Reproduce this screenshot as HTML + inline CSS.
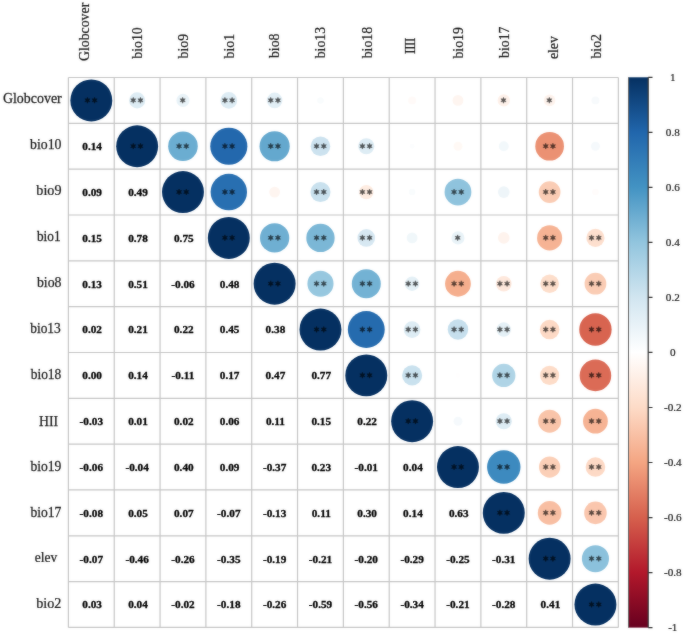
<!DOCTYPE html>
<html><head><meta charset="utf-8"><title>corrplot</title><style>
html,body{margin:0;padding:0;background:#fff;}
body{width:685px;height:636px;overflow:hidden;}
svg{display:block;}
text{font-family:"Liberation Serif",serif;}
.nm{font-size:10.7px;font-weight:bold;text-anchor:middle;fill:#000;stroke:#000;stroke-width:0.3px;}
.rl{font-size:13.8px;text-anchor:end;fill:#1a1a1a;stroke:#1a1a1a;stroke-width:0.25px;}
.cl{font-size:13.8px;text-anchor:start;fill:#1a1a1a;stroke:#1a1a1a;stroke-width:0.25px;}
.tl{font-size:11.2px;text-anchor:middle;fill:#1a1a1a;stroke:#1a1a1a;stroke-width:0.2px;}
</style></head>
<body>
<svg width="685" height="636" viewBox="0 0 685 636"><rect width="685" height="636" fill="#fff"/><filter id="bl" x="0" y="0" width="685" height="636" filterUnits="userSpaceOnUse" color-interpolation-filters="sRGB"><feGaussianBlur in="SourceGraphic" stdDeviation="0.8" result="b"/><feComposite in="SourceGraphic" in2="b" operator="arithmetic" k1="0" k2="0.65" k3="0.35" k4="0"/></filter><g filter="url(#bl)"><rect width="685" height="636" fill="#fff"/><path d="M68.40 77.5V627.46M68.4 77.50H618.36M114.23 77.5V627.46M68.4 123.33H618.36M160.06 77.5V627.46M68.4 169.16H618.36M205.89 77.5V627.46M68.4 214.99H618.36M251.72 77.5V627.46M68.4 260.82H618.36M297.55 77.5V627.46M68.4 306.65H618.36M343.38 77.5V627.46M68.4 352.48H618.36M389.21 77.5V627.46M68.4 398.31H618.36M435.04 77.5V627.46M68.4 444.14H618.36M480.87 77.5V627.46M68.4 489.97H618.36M526.70 77.5V627.46M68.4 535.80H618.36M572.53 77.5V627.46M68.4 581.63H618.36M618.36 77.5V627.46M68.4 627.46H618.36" stroke="#c6c6c6" stroke-width="1.2" fill="none"/><circle cx="91.31" cy="100.41" r="20.97" fill="#053061"/><circle cx="137.15" cy="100.41" r="8.07" fill="#ddecf4"/><circle cx="182.97" cy="100.41" r="6.54" fill="#e9f3f8"/><circle cx="228.81" cy="100.41" r="8.34" fill="#ddecf4"/><circle cx="274.63" cy="100.41" r="7.79" fill="#e2eff6"/><circle cx="320.47" cy="100.41" r="3.27" fill="#f9fcfd"/><circle cx="412.12" cy="100.41" r="3.92" fill="#fffaf8"/><circle cx="457.96" cy="100.41" r="5.40" fill="#fef5f0"/><circle cx="503.78" cy="100.41" r="6.18" fill="#fef1ea"/><circle cx="549.62" cy="100.41" r="5.81" fill="#fef3ed"/><circle cx="595.44" cy="100.41" r="3.92" fill="#f7fafc"/><circle cx="137.15" cy="146.25" r="20.97" fill="#053061"/><circle cx="182.97" cy="146.25" r="14.79" fill="#6badd1"/><circle cx="228.81" cy="146.25" r="18.56" fill="#2368ad"/><circle cx="274.63" cy="146.25" r="15.08" fill="#64a8ce"/><circle cx="320.47" cy="146.25" r="9.80" fill="#cce2ef"/><circle cx="366.29" cy="146.25" r="8.07" fill="#ddecf4"/><circle cx="412.12" cy="146.25" r="2.41" fill="#fcfdfe"/><circle cx="457.96" cy="146.25" r="4.47" fill="#fff9f5"/><circle cx="503.78" cy="146.25" r="4.96" fill="#f2f8fb"/><circle cx="549.62" cy="146.25" r="14.34" fill="#eb9173"/><circle cx="595.44" cy="146.25" r="4.47" fill="#f5f9fc"/><circle cx="182.97" cy="192.07" r="20.97" fill="#053061"/><circle cx="228.81" cy="192.07" r="18.21" fill="#286fb1"/><circle cx="274.63" cy="192.07" r="5.40" fill="#fef5f0"/><circle cx="320.47" cy="192.07" r="10.02" fill="#c9e1ee"/><circle cx="366.29" cy="192.07" r="7.19" fill="#feece1"/><circle cx="412.12" cy="192.07" r="3.27" fill="#f9fcfd"/><circle cx="457.96" cy="192.07" r="13.39" fill="#8fc3dd"/><circle cx="503.78" cy="192.07" r="5.81" fill="#eef5f9"/><circle cx="549.62" cy="192.07" r="10.87" fill="#faccb4"/><circle cx="595.44" cy="192.07" r="3.27" fill="#fffcfb"/><circle cx="228.81" cy="237.91" r="20.97" fill="#053061"/><circle cx="274.63" cy="237.91" r="14.64" fill="#6fafd2"/><circle cx="320.47" cy="237.91" r="14.18" fill="#7bb7d6"/><circle cx="366.29" cy="237.91" r="8.85" fill="#d7e8f2"/><circle cx="412.12" cy="237.91" r="5.40" fill="#f0f7fa"/><circle cx="457.96" cy="237.91" r="6.54" fill="#e9f3f8"/><circle cx="503.78" cy="237.91" r="5.81" fill="#fef3ed"/><circle cx="549.62" cy="237.91" r="12.55" fill="#f6b394"/><circle cx="595.44" cy="237.91" r="9.10" fill="#fddfce"/><circle cx="274.63" cy="283.74" r="20.97" fill="#053061"/><circle cx="320.47" cy="283.74" r="13.06" fill="#96c7df"/><circle cx="366.29" cy="283.74" r="14.49" fill="#73b2d4"/><circle cx="412.12" cy="283.74" r="7.19" fill="#e4f0f6"/><circle cx="457.96" cy="283.74" r="12.89" fill="#f5ae8d"/><circle cx="503.78" cy="283.74" r="7.79" fill="#fee8dc"/><circle cx="549.62" cy="283.74" r="9.34" fill="#fddecb"/><circle cx="595.44" cy="283.74" r="10.87" fill="#faccb4"/><circle cx="320.47" cy="329.56" r="20.97" fill="#053061"/><circle cx="366.29" cy="329.56" r="18.45" fill="#256bae"/><circle cx="412.12" cy="329.56" r="8.34" fill="#ddecf4"/><circle cx="457.96" cy="329.56" r="10.24" fill="#c6dfed"/><circle cx="503.78" cy="329.56" r="7.19" fill="#e4f0f6"/><circle cx="549.62" cy="329.56" r="9.80" fill="#fdd9c5"/><circle cx="595.44" cy="329.56" r="16.19" fill="#d86450"/><circle cx="366.29" cy="375.39" r="20.97" fill="#053061"/><circle cx="412.12" cy="375.39" r="10.02" fill="#c9e1ee"/><circle cx="457.96" cy="375.39" r="2.41" fill="#fffefe"/><circle cx="503.78" cy="375.39" r="11.65" fill="#afd4e6"/><circle cx="549.62" cy="375.39" r="9.57" fill="#fddcc8"/><circle cx="595.44" cy="375.39" r="15.78" fill="#db6b56"/><circle cx="412.12" cy="421.22" r="20.97" fill="#053061"/><circle cx="457.96" cy="421.22" r="4.47" fill="#f5f9fc"/><circle cx="503.78" cy="421.22" r="8.07" fill="#ddecf4"/><circle cx="549.62" cy="421.22" r="11.46" fill="#f9c4a9"/><circle cx="595.44" cy="421.22" r="12.38" fill="#f6b394"/><circle cx="457.96" cy="467.06" r="20.97" fill="#053061"/><circle cx="503.78" cy="467.06" r="16.72" fill="#3d8abf"/><circle cx="549.62" cy="467.06" r="10.66" fill="#fbcfb7"/><circle cx="595.44" cy="467.06" r="9.80" fill="#fdd9c5"/><circle cx="503.78" cy="512.88" r="20.97" fill="#053061"/><circle cx="549.62" cy="512.88" r="11.83" fill="#f8bea2"/><circle cx="595.44" cy="512.88" r="11.26" fill="#fac6ad"/><circle cx="549.62" cy="558.71" r="20.97" fill="#053061"/><circle cx="595.44" cy="558.71" r="13.56" fill="#8bc1dc"/><circle cx="595.44" cy="604.54" r="20.97" fill="#053061"/><path d="M87.42 97.36L88.14 99.06L89.97 98.84L88.87 100.31L89.97 101.79L88.14 101.57L87.42 103.27L86.69 101.57L84.86 101.79L85.97 100.31L84.86 98.84L86.69 99.06ZM94.61 97.36L95.34 99.06L97.17 98.84L96.06 100.31L97.17 101.79L95.34 101.57L94.61 103.27L93.89 101.57L92.06 101.79L93.16 100.31L92.06 98.84L93.89 99.06ZM133.25 97.36L133.97 99.06L135.80 98.84L134.69 100.31L135.80 101.79L133.97 101.57L133.25 103.27L132.52 101.57L130.69 101.79L131.80 100.31L130.69 98.84L132.52 99.06ZM140.44 97.36L141.17 99.06L143.00 98.84L141.89 100.31L143.00 101.79L141.17 101.57L140.44 103.27L139.72 101.57L137.89 101.79L139.00 100.31L137.89 98.84L139.72 99.06ZM182.67 97.36L183.40 99.06L185.23 98.84L184.12 100.31L185.23 101.79L183.40 101.57L182.67 103.27L181.95 101.57L180.12 101.79L181.22 100.31L180.12 98.84L181.95 99.06ZM224.91 97.36L225.63 99.06L227.46 98.84L226.35 100.31L227.46 101.79L225.63 101.57L224.91 103.27L224.18 101.57L222.35 101.79L223.46 100.31L222.35 98.84L224.18 99.06ZM232.10 97.36L232.83 99.06L234.66 98.84L233.55 100.31L234.66 101.79L232.83 101.57L232.10 103.27L231.38 101.57L229.55 101.79L230.66 100.31L229.55 98.84L231.38 99.06ZM270.73 97.36L271.46 99.06L273.29 98.84L272.18 100.31L273.29 101.79L271.46 101.57L270.73 103.27L270.01 101.57L268.18 101.79L269.28 100.31L268.18 98.84L270.01 99.06ZM277.94 97.36L278.66 99.06L280.49 98.84L279.38 100.31L280.49 101.79L278.66 101.57L277.94 103.27L277.21 101.57L275.38 101.79L276.49 100.31L275.38 98.84L277.21 99.06ZM503.48 97.36L504.21 99.06L506.04 98.84L504.93 100.31L506.04 101.79L504.21 101.57L503.48 103.27L502.76 101.57L500.93 101.79L502.03 100.31L500.93 98.84L502.76 99.06ZM549.32 97.36L550.04 99.06L551.87 98.84L550.77 100.31L551.87 101.79L550.04 101.57L549.32 103.27L548.59 101.57L546.76 101.79L547.87 100.31L546.76 98.84L548.59 99.06ZM133.25 143.20L133.97 144.89L135.80 144.67L134.69 146.15L135.80 147.62L133.97 147.40L133.25 149.09L132.52 147.40L130.69 147.62L131.80 146.15L130.69 144.67L132.52 144.89ZM140.44 143.20L141.17 144.89L143.00 144.67L141.89 146.15L143.00 147.62L141.17 147.40L140.44 149.09L139.72 147.40L137.89 147.62L139.00 146.15L137.89 144.67L139.72 144.89ZM179.07 143.20L179.80 144.89L181.63 144.67L180.52 146.15L181.63 147.62L179.80 147.40L179.07 149.09L178.35 147.40L176.52 147.62L177.62 146.15L176.52 144.67L178.35 144.89ZM186.27 143.20L187.00 144.89L188.83 144.67L187.72 146.15L188.83 147.62L187.00 147.40L186.27 149.09L185.55 147.40L183.72 147.62L184.82 146.15L183.72 144.67L185.55 144.89ZM224.91 143.20L225.63 144.89L227.46 144.67L226.35 146.15L227.46 147.62L225.63 147.40L224.91 149.09L224.18 147.40L222.35 147.62L223.46 146.15L222.35 144.67L224.18 144.89ZM232.10 143.20L232.83 144.89L234.66 144.67L233.55 146.15L234.66 147.62L232.83 147.40L232.10 149.09L231.38 147.40L229.55 147.62L230.66 146.15L229.55 144.67L231.38 144.89ZM270.73 143.20L271.46 144.89L273.29 144.67L272.18 146.15L273.29 147.62L271.46 147.40L270.73 149.09L270.01 147.40L268.18 147.62L269.28 146.15L268.18 144.67L270.01 144.89ZM277.94 143.20L278.66 144.89L280.49 144.67L279.38 146.15L280.49 147.62L278.66 147.40L277.94 149.09L277.21 147.40L275.38 147.62L276.49 146.15L275.38 144.67L277.21 144.89ZM316.56 143.20L317.29 144.89L319.12 144.67L318.01 146.15L319.12 147.62L317.29 147.40L316.56 149.09L315.84 147.40L314.01 147.62L315.12 146.15L314.01 144.67L315.84 144.89ZM323.77 143.20L324.49 144.89L326.32 144.67L325.22 146.15L326.32 147.62L324.49 147.40L323.77 149.09L323.04 147.40L321.21 147.62L322.32 146.15L321.21 144.67L323.04 144.89ZM362.39 143.20L363.12 144.89L364.95 144.67L363.84 146.15L364.95 147.62L363.12 147.40L362.39 149.09L361.67 147.40L359.84 147.62L360.94 146.15L359.84 144.67L361.67 144.89ZM369.59 143.20L370.32 144.89L372.15 144.67L371.04 146.15L372.15 147.62L370.32 147.40L369.59 149.09L368.87 147.40L367.04 147.62L368.14 146.15L367.04 144.67L368.87 144.89ZM545.72 143.20L546.44 144.89L548.27 144.67L547.17 146.15L548.27 147.62L546.44 147.40L545.72 149.09L544.99 147.40L543.16 147.62L544.26 146.15L543.16 144.67L544.99 144.89ZM552.92 143.20L553.64 144.89L555.47 144.67L554.37 146.15L555.47 147.62L553.64 147.40L552.92 149.09L552.19 147.40L550.36 147.62L551.47 146.15L550.36 144.67L552.19 144.89ZM179.07 189.03L179.80 190.72L181.63 190.50L180.52 191.97L181.63 193.45L179.80 193.23L179.07 194.92L178.35 193.23L176.52 193.45L177.62 191.97L176.52 190.50L178.35 190.72ZM186.27 189.03L187.00 190.72L188.83 190.50L187.72 191.97L188.83 193.45L187.00 193.23L186.27 194.92L185.55 193.23L183.72 193.45L184.82 191.97L183.72 190.50L185.55 190.72ZM224.91 189.03L225.63 190.72L227.46 190.50L226.35 191.97L227.46 193.45L225.63 193.23L224.91 194.92L224.18 193.23L222.35 193.45L223.46 191.97L222.35 190.50L224.18 190.72ZM232.10 189.03L232.83 190.72L234.66 190.50L233.55 191.97L234.66 193.45L232.83 193.23L232.10 194.92L231.38 193.23L229.55 193.45L230.66 191.97L229.55 190.50L231.38 190.72ZM316.56 189.03L317.29 190.72L319.12 190.50L318.01 191.97L319.12 193.45L317.29 193.23L316.56 194.92L315.84 193.23L314.01 193.45L315.12 191.97L314.01 190.50L315.84 190.72ZM323.77 189.03L324.49 190.72L326.32 190.50L325.22 191.97L326.32 193.45L324.49 193.23L323.77 194.92L323.04 193.23L321.21 193.45L322.32 191.97L321.21 190.50L323.04 190.72ZM362.39 189.03L363.12 190.72L364.95 190.50L363.84 191.97L364.95 193.45L363.12 193.23L362.39 194.92L361.67 193.23L359.84 193.45L360.94 191.97L359.84 190.50L361.67 190.72ZM369.59 189.03L370.32 190.72L372.15 190.50L371.04 191.97L372.15 193.45L370.32 193.23L369.59 194.92L368.87 193.23L367.04 193.45L368.14 191.97L367.04 190.50L368.87 190.72ZM454.06 189.03L454.78 190.72L456.61 190.50L455.50 191.97L456.61 193.45L454.78 193.23L454.06 194.92L453.33 193.23L451.50 193.45L452.61 191.97L451.50 190.50L453.33 190.72ZM461.26 189.03L461.98 190.72L463.81 190.50L462.71 191.97L463.81 193.45L461.98 193.23L461.26 194.92L460.53 193.23L458.70 193.45L459.81 191.97L458.70 190.50L460.53 190.72ZM545.72 189.03L546.44 190.72L548.27 190.50L547.17 191.97L548.27 193.45L546.44 193.23L545.72 194.92L544.99 193.23L543.16 193.45L544.26 191.97L543.16 190.50L544.99 190.72ZM552.92 189.03L553.64 190.72L555.47 190.50L554.37 191.97L555.47 193.45L553.64 193.23L552.92 194.92L552.19 193.23L550.36 193.45L551.47 191.97L550.36 190.50L552.19 190.72ZM224.91 234.86L225.63 236.55L227.46 236.33L226.35 237.81L227.46 239.28L225.63 239.06L224.91 240.75L224.18 239.06L222.35 239.28L223.46 237.81L222.35 236.33L224.18 236.55ZM232.10 234.86L232.83 236.55L234.66 236.33L233.55 237.81L234.66 239.28L232.83 239.06L232.10 240.75L231.38 239.06L229.55 239.28L230.66 237.81L229.55 236.33L231.38 236.55ZM270.73 234.86L271.46 236.55L273.29 236.33L272.18 237.81L273.29 239.28L271.46 239.06L270.73 240.75L270.01 239.06L268.18 239.28L269.28 237.81L268.18 236.33L270.01 236.55ZM277.94 234.86L278.66 236.55L280.49 236.33L279.38 237.81L280.49 239.28L278.66 239.06L277.94 240.75L277.21 239.06L275.38 239.28L276.49 237.81L275.38 236.33L277.21 236.55ZM316.56 234.86L317.29 236.55L319.12 236.33L318.01 237.81L319.12 239.28L317.29 239.06L316.56 240.75L315.84 239.06L314.01 239.28L315.12 237.81L314.01 236.33L315.84 236.55ZM323.77 234.86L324.49 236.55L326.32 236.33L325.22 237.81L326.32 239.28L324.49 239.06L323.77 240.75L323.04 239.06L321.21 239.28L322.32 237.81L321.21 236.33L323.04 236.55ZM362.39 234.86L363.12 236.55L364.95 236.33L363.84 237.81L364.95 239.28L363.12 239.06L362.39 240.75L361.67 239.06L359.84 239.28L360.94 237.81L359.84 236.33L361.67 236.55ZM369.59 234.86L370.32 236.55L372.15 236.33L371.04 237.81L372.15 239.28L370.32 239.06L369.59 240.75L368.87 239.06L367.04 239.28L368.14 237.81L367.04 236.33L368.87 236.55ZM457.66 234.86L458.38 236.55L460.21 236.33L459.11 237.81L460.21 239.28L458.38 239.06L457.66 240.75L456.93 239.06L455.10 239.28L456.21 237.81L455.10 236.33L456.93 236.55ZM545.72 234.86L546.44 236.55L548.27 236.33L547.17 237.81L548.27 239.28L546.44 239.06L545.72 240.75L544.99 239.06L543.16 239.28L544.26 237.81L543.16 236.33L544.99 236.55ZM552.92 234.86L553.64 236.55L555.47 236.33L554.37 237.81L555.47 239.28L553.64 239.06L552.92 240.75L552.19 239.06L550.36 239.28L551.47 237.81L550.36 236.33L552.19 236.55ZM591.54 234.86L592.27 236.55L594.10 236.33L593.00 237.81L594.10 239.28L592.27 239.06L591.54 240.75L590.82 239.06L588.99 239.28L590.09 237.81L588.99 236.33L590.82 236.55ZM598.75 234.86L599.47 236.55L601.30 236.33L600.20 237.81L601.30 239.28L599.47 239.06L598.75 240.75L598.02 239.06L596.19 239.28L597.29 237.81L596.19 236.33L598.02 236.55ZM270.73 280.69L271.46 282.38L273.29 282.16L272.18 283.63L273.29 285.11L271.46 284.89L270.73 286.58L270.01 284.89L268.18 285.11L269.28 283.63L268.18 282.16L270.01 282.38ZM277.94 280.69L278.66 282.38L280.49 282.16L279.38 283.63L280.49 285.11L278.66 284.89L277.94 286.58L277.21 284.89L275.38 285.11L276.49 283.63L275.38 282.16L277.21 282.38ZM316.56 280.69L317.29 282.38L319.12 282.16L318.01 283.63L319.12 285.11L317.29 284.89L316.56 286.58L315.84 284.89L314.01 285.11L315.12 283.63L314.01 282.16L315.84 282.38ZM323.77 280.69L324.49 282.38L326.32 282.16L325.22 283.63L326.32 285.11L324.49 284.89L323.77 286.58L323.04 284.89L321.21 285.11L322.32 283.63L321.21 282.16L323.04 282.38ZM362.39 280.69L363.12 282.38L364.95 282.16L363.84 283.63L364.95 285.11L363.12 284.89L362.39 286.58L361.67 284.89L359.84 285.11L360.94 283.63L359.84 282.16L361.67 282.38ZM369.59 280.69L370.32 282.38L372.15 282.16L371.04 283.63L372.15 285.11L370.32 284.89L369.59 286.58L368.87 284.89L367.04 285.11L368.14 283.63L367.04 282.16L368.87 282.38ZM408.22 280.69L408.95 282.38L410.78 282.16L409.67 283.63L410.78 285.11L408.95 284.89L408.22 286.58L407.50 284.89L405.67 285.11L406.77 283.63L405.67 282.16L407.50 282.38ZM415.43 280.69L416.15 282.38L417.98 282.16L416.88 283.63L417.98 285.11L416.15 284.89L415.43 286.58L414.70 284.89L412.87 285.11L413.98 283.63L412.87 282.16L414.70 282.38ZM454.06 280.69L454.78 282.38L456.61 282.16L455.50 283.63L456.61 285.11L454.78 284.89L454.06 286.58L453.33 284.89L451.50 285.11L452.61 283.63L451.50 282.16L453.33 282.38ZM461.26 280.69L461.98 282.38L463.81 282.16L462.71 283.63L463.81 285.11L461.98 284.89L461.26 286.58L460.53 284.89L458.70 285.11L459.81 283.63L458.70 282.16L460.53 282.38ZM499.88 280.69L500.61 282.38L502.44 282.16L501.33 283.63L502.44 285.11L500.61 284.89L499.88 286.58L499.16 284.89L497.33 285.11L498.43 283.63L497.33 282.16L499.16 282.38ZM507.08 280.69L507.81 282.38L509.64 282.16L508.53 283.63L509.64 285.11L507.81 284.89L507.08 286.58L506.36 284.89L504.53 285.11L505.63 283.63L504.53 282.16L506.36 282.38ZM545.72 280.69L546.44 282.38L548.27 282.16L547.17 283.63L548.27 285.11L546.44 284.89L545.72 286.58L544.99 284.89L543.16 285.11L544.26 283.63L543.16 282.16L544.99 282.38ZM552.92 280.69L553.64 282.38L555.47 282.16L554.37 283.63L555.47 285.11L553.64 284.89L552.92 286.58L552.19 284.89L550.36 285.11L551.47 283.63L550.36 282.16L552.19 282.38ZM591.54 280.69L592.27 282.38L594.10 282.16L593.00 283.63L594.10 285.11L592.27 284.89L591.54 286.58L590.82 284.89L588.99 285.11L590.09 283.63L588.99 282.16L590.82 282.38ZM598.75 280.69L599.47 282.38L601.30 282.16L600.20 283.63L601.30 285.11L599.47 284.89L598.75 286.58L598.02 284.89L596.19 285.11L597.29 283.63L596.19 282.16L598.02 282.38ZM316.56 326.51L317.29 328.21L319.12 327.99L318.01 329.46L319.12 330.94L317.29 330.72L316.56 332.41L315.84 330.72L314.01 330.94L315.12 329.46L314.01 327.99L315.84 328.21ZM323.77 326.51L324.49 328.21L326.32 327.99L325.22 329.46L326.32 330.94L324.49 330.72L323.77 332.41L323.04 330.72L321.21 330.94L322.32 329.46L321.21 327.99L323.04 328.21ZM362.39 326.51L363.12 328.21L364.95 327.99L363.84 329.46L364.95 330.94L363.12 330.72L362.39 332.41L361.67 330.72L359.84 330.94L360.94 329.46L359.84 327.99L361.67 328.21ZM369.59 326.51L370.32 328.21L372.15 327.99L371.04 329.46L372.15 330.94L370.32 330.72L369.59 332.41L368.87 330.72L367.04 330.94L368.14 329.46L367.04 327.99L368.87 328.21ZM408.22 326.51L408.95 328.21L410.78 327.99L409.67 329.46L410.78 330.94L408.95 330.72L408.22 332.41L407.50 330.72L405.67 330.94L406.77 329.46L405.67 327.99L407.50 328.21ZM415.43 326.51L416.15 328.21L417.98 327.99L416.88 329.46L417.98 330.94L416.15 330.72L415.43 332.41L414.70 330.72L412.87 330.94L413.98 329.46L412.87 327.99L414.70 328.21ZM454.06 326.51L454.78 328.21L456.61 327.99L455.50 329.46L456.61 330.94L454.78 330.72L454.06 332.41L453.33 330.72L451.50 330.94L452.61 329.46L451.50 327.99L453.33 328.21ZM461.26 326.51L461.98 328.21L463.81 327.99L462.71 329.46L463.81 330.94L461.98 330.72L461.26 332.41L460.53 330.72L458.70 330.94L459.81 329.46L458.70 327.99L460.53 328.21ZM499.88 326.51L500.61 328.21L502.44 327.99L501.33 329.46L502.44 330.94L500.61 330.72L499.88 332.41L499.16 330.72L497.33 330.94L498.43 329.46L497.33 327.99L499.16 328.21ZM507.08 326.51L507.81 328.21L509.64 327.99L508.53 329.46L509.64 330.94L507.81 330.72L507.08 332.41L506.36 330.72L504.53 330.94L505.63 329.46L504.53 327.99L506.36 328.21ZM545.72 326.51L546.44 328.21L548.27 327.99L547.17 329.46L548.27 330.94L546.44 330.72L545.72 332.41L544.99 330.72L543.16 330.94L544.26 329.46L543.16 327.99L544.99 328.21ZM552.92 326.51L553.64 328.21L555.47 327.99L554.37 329.46L555.47 330.94L553.64 330.72L552.92 332.41L552.19 330.72L550.36 330.94L551.47 329.46L550.36 327.99L552.19 328.21ZM591.54 326.51L592.27 328.21L594.10 327.99L593.00 329.46L594.10 330.94L592.27 330.72L591.54 332.41L590.82 330.72L588.99 330.94L590.09 329.46L588.99 327.99L590.82 328.21ZM598.75 326.51L599.47 328.21L601.30 327.99L600.20 329.46L601.30 330.94L599.47 330.72L598.75 332.41L598.02 330.72L596.19 330.94L597.29 329.46L596.19 327.99L598.02 328.21ZM362.39 372.34L363.12 374.04L364.95 373.82L363.84 375.29L364.95 376.77L363.12 376.55L362.39 378.24L361.67 376.55L359.84 376.77L360.94 375.29L359.84 373.82L361.67 374.04ZM369.59 372.34L370.32 374.04L372.15 373.82L371.04 375.29L372.15 376.77L370.32 376.55L369.59 378.24L368.87 376.55L367.04 376.77L368.14 375.29L367.04 373.82L368.87 374.04ZM408.22 372.34L408.95 374.04L410.78 373.82L409.67 375.29L410.78 376.77L408.95 376.55L408.22 378.24L407.50 376.55L405.67 376.77L406.77 375.29L405.67 373.82L407.50 374.04ZM415.43 372.34L416.15 374.04L417.98 373.82L416.88 375.29L417.98 376.77L416.15 376.55L415.43 378.24L414.70 376.55L412.87 376.77L413.98 375.29L412.87 373.82L414.70 374.04ZM499.88 372.34L500.61 374.04L502.44 373.82L501.33 375.29L502.44 376.77L500.61 376.55L499.88 378.24L499.16 376.55L497.33 376.77L498.43 375.29L497.33 373.82L499.16 374.04ZM507.08 372.34L507.81 374.04L509.64 373.82L508.53 375.29L509.64 376.77L507.81 376.55L507.08 378.24L506.36 376.55L504.53 376.77L505.63 375.29L504.53 373.82L506.36 374.04ZM545.72 372.34L546.44 374.04L548.27 373.82L547.17 375.29L548.27 376.77L546.44 376.55L545.72 378.24L544.99 376.55L543.16 376.77L544.26 375.29L543.16 373.82L544.99 374.04ZM552.92 372.34L553.64 374.04L555.47 373.82L554.37 375.29L555.47 376.77L553.64 376.55L552.92 378.24L552.19 376.55L550.36 376.77L551.47 375.29L550.36 373.82L552.19 374.04ZM591.54 372.34L592.27 374.04L594.10 373.82L593.00 375.29L594.10 376.77L592.27 376.55L591.54 378.24L590.82 376.55L588.99 376.77L590.09 375.29L588.99 373.82L590.82 374.04ZM598.75 372.34L599.47 374.04L601.30 373.82L600.20 375.29L601.30 376.77L599.47 376.55L598.75 378.24L598.02 376.55L596.19 376.77L597.29 375.29L596.19 373.82L598.02 374.04ZM408.22 418.17L408.95 419.87L410.78 419.65L409.67 421.12L410.78 422.60L408.95 422.38L408.22 424.07L407.50 422.38L405.67 422.60L406.77 421.12L405.67 419.65L407.50 419.87ZM415.43 418.17L416.15 419.87L417.98 419.65L416.88 421.12L417.98 422.60L416.15 422.38L415.43 424.07L414.70 422.38L412.87 422.60L413.98 421.12L412.87 419.65L414.70 419.87ZM499.88 418.17L500.61 419.87L502.44 419.65L501.33 421.12L502.44 422.60L500.61 422.38L499.88 424.07L499.16 422.38L497.33 422.60L498.43 421.12L497.33 419.65L499.16 419.87ZM507.08 418.17L507.81 419.87L509.64 419.65L508.53 421.12L509.64 422.60L507.81 422.38L507.08 424.07L506.36 422.38L504.53 422.60L505.63 421.12L504.53 419.65L506.36 419.87ZM545.72 418.17L546.44 419.87L548.27 419.65L547.17 421.12L548.27 422.60L546.44 422.38L545.72 424.07L544.99 422.38L543.16 422.60L544.26 421.12L543.16 419.65L544.99 419.87ZM552.92 418.17L553.64 419.87L555.47 419.65L554.37 421.12L555.47 422.60L553.64 422.38L552.92 424.07L552.19 422.38L550.36 422.60L551.47 421.12L550.36 419.65L552.19 419.87ZM591.54 418.17L592.27 419.87L594.10 419.65L593.00 421.12L594.10 422.60L592.27 422.38L591.54 424.07L590.82 422.38L588.99 422.60L590.09 421.12L588.99 419.65L590.82 419.87ZM598.75 418.17L599.47 419.87L601.30 419.65L600.20 421.12L601.30 422.60L599.47 422.38L598.75 424.07L598.02 422.38L596.19 422.60L597.29 421.12L596.19 419.65L598.02 419.87ZM454.06 464.00L454.78 465.70L456.61 465.48L455.50 466.95L456.61 468.43L454.78 468.21L454.06 469.90L453.33 468.21L451.50 468.43L452.61 466.95L451.50 465.48L453.33 465.70ZM461.26 464.00L461.98 465.70L463.81 465.48L462.71 466.95L463.81 468.43L461.98 468.21L461.26 469.90L460.53 468.21L458.70 468.43L459.81 466.95L458.70 465.48L460.53 465.70ZM499.88 464.00L500.61 465.70L502.44 465.48L501.33 466.95L502.44 468.43L500.61 468.21L499.88 469.90L499.16 468.21L497.33 468.43L498.43 466.95L497.33 465.48L499.16 465.70ZM507.08 464.00L507.81 465.70L509.64 465.48L508.53 466.95L509.64 468.43L507.81 468.21L507.08 469.90L506.36 468.21L504.53 468.43L505.63 466.95L504.53 465.48L506.36 465.70ZM545.72 464.00L546.44 465.70L548.27 465.48L547.17 466.95L548.27 468.43L546.44 468.21L545.72 469.90L544.99 468.21L543.16 468.43L544.26 466.95L543.16 465.48L544.99 465.70ZM552.92 464.00L553.64 465.70L555.47 465.48L554.37 466.95L555.47 468.43L553.64 468.21L552.92 469.90L552.19 468.21L550.36 468.43L551.47 466.95L550.36 465.48L552.19 465.70ZM591.54 464.00L592.27 465.70L594.10 465.48L593.00 466.95L594.10 468.43L592.27 468.21L591.54 469.90L590.82 468.21L588.99 468.43L590.09 466.95L588.99 465.48L590.82 465.70ZM598.75 464.00L599.47 465.70L601.30 465.48L600.20 466.95L601.30 468.43L599.47 468.21L598.75 469.90L598.02 468.21L596.19 468.43L597.29 466.95L596.19 465.48L598.02 465.70ZM499.88 509.83L500.61 511.53L502.44 511.31L501.33 512.78L502.44 514.26L500.61 514.04L499.88 515.74L499.16 514.04L497.33 514.26L498.43 512.78L497.33 511.31L499.16 511.53ZM507.08 509.83L507.81 511.53L509.64 511.31L508.53 512.78L509.64 514.26L507.81 514.04L507.08 515.74L506.36 514.04L504.53 514.26L505.63 512.78L504.53 511.31L506.36 511.53ZM545.72 509.83L546.44 511.53L548.27 511.31L547.17 512.78L548.27 514.26L546.44 514.04L545.72 515.74L544.99 514.04L543.16 514.26L544.26 512.78L543.16 511.31L544.99 511.53ZM552.92 509.83L553.64 511.53L555.47 511.31L554.37 512.78L555.47 514.26L553.64 514.04L552.92 515.74L552.19 514.04L550.36 514.26L551.47 512.78L550.36 511.31L552.19 511.53ZM591.54 509.83L592.27 511.53L594.10 511.31L593.00 512.78L594.10 514.26L592.27 514.04L591.54 515.74L590.82 514.04L588.99 514.26L590.09 512.78L588.99 511.31L590.82 511.53ZM598.75 509.83L599.47 511.53L601.30 511.31L600.20 512.78L601.30 514.26L599.47 514.04L598.75 515.74L598.02 514.04L596.19 514.26L597.29 512.78L596.19 511.31L598.02 511.53ZM545.72 555.66L546.44 557.36L548.27 557.14L547.17 558.61L548.27 560.09L546.44 559.87L545.72 561.56L544.99 559.87L543.16 560.09L544.26 558.61L543.16 557.14L544.99 557.36ZM552.92 555.66L553.64 557.36L555.47 557.14L554.37 558.61L555.47 560.09L553.64 559.87L552.92 561.56L552.19 559.87L550.36 560.09L551.47 558.61L550.36 557.14L552.19 557.36ZM591.54 555.66L592.27 557.36L594.10 557.14L593.00 558.61L594.10 560.09L592.27 559.87L591.54 561.56L590.82 559.87L588.99 560.09L590.09 558.61L588.99 557.14L590.82 557.36ZM598.75 555.66L599.47 557.36L601.30 557.14L600.20 558.61L601.30 560.09L599.47 559.87L598.75 561.56L598.02 559.87L596.19 560.09L597.29 558.61L596.19 557.14L598.02 557.36ZM591.54 601.49L592.27 603.19L594.10 602.97L593.00 604.44L594.10 605.92L592.27 605.70L591.54 607.39L590.82 605.70L588.99 605.92L590.09 604.44L588.99 602.97L590.82 603.19ZM598.75 601.49L599.47 603.19L601.30 602.97L600.20 604.44L601.30 605.92L599.47 605.70L598.75 607.39L598.02 605.70L596.19 605.92L597.29 604.44L596.19 602.97L598.02 603.19Z" fill="#000" stroke="#000" stroke-width="0.5" stroke-linejoin="round" opacity="0.64"/><text transform="translate(92.11,150.15) scale(1.05,1)" class="nm">0.14</text><text transform="translate(92.11,195.97) scale(1.05,1)" class="nm">0.09</text><text transform="translate(137.95,195.97) scale(1.05,1)" class="nm">0.49</text><text transform="translate(92.11,241.81) scale(1.05,1)" class="nm">0.15</text><text transform="translate(137.95,241.81) scale(1.05,1)" class="nm">0.78</text><text transform="translate(183.78,241.81) scale(1.05,1)" class="nm">0.75</text><text transform="translate(92.11,287.63) scale(1.05,1)" class="nm">0.13</text><text transform="translate(137.95,287.63) scale(1.05,1)" class="nm">0.51</text><text transform="translate(182.97,287.63) scale(1.05,1)" class="nm">-0.06</text><text transform="translate(229.61,287.63) scale(1.05,1)" class="nm">0.48</text><text transform="translate(92.11,333.46) scale(1.05,1)" class="nm">0.02</text><text transform="translate(137.95,333.46) scale(1.05,1)" class="nm">0.21</text><text transform="translate(183.78,333.46) scale(1.05,1)" class="nm">0.22</text><text transform="translate(229.61,333.46) scale(1.05,1)" class="nm">0.45</text><text transform="translate(275.44,333.46) scale(1.05,1)" class="nm">0.38</text><text transform="translate(92.11,379.29) scale(1.05,1)" class="nm">0.00</text><text transform="translate(137.95,379.29) scale(1.05,1)" class="nm">0.14</text><text transform="translate(182.97,379.29) scale(1.05,1)" class="nm">-0.11</text><text transform="translate(229.61,379.29) scale(1.05,1)" class="nm">0.17</text><text transform="translate(275.44,379.29) scale(1.05,1)" class="nm">0.47</text><text transform="translate(321.27,379.29) scale(1.05,1)" class="nm">0.77</text><text transform="translate(91.31,425.12) scale(1.05,1)" class="nm">-0.03</text><text transform="translate(137.95,425.12) scale(1.05,1)" class="nm">0.01</text><text transform="translate(183.78,425.12) scale(1.05,1)" class="nm">0.02</text><text transform="translate(229.61,425.12) scale(1.05,1)" class="nm">0.06</text><text transform="translate(275.44,425.12) scale(1.05,1)" class="nm">0.11</text><text transform="translate(321.27,425.12) scale(1.05,1)" class="nm">0.15</text><text transform="translate(367.09,425.12) scale(1.05,1)" class="nm">0.22</text><text transform="translate(91.31,470.95) scale(1.05,1)" class="nm">-0.06</text><text transform="translate(137.15,470.95) scale(1.05,1)" class="nm">-0.04</text><text transform="translate(183.78,470.95) scale(1.05,1)" class="nm">0.40</text><text transform="translate(229.61,470.95) scale(1.05,1)" class="nm">0.09</text><text transform="translate(274.63,470.95) scale(1.05,1)" class="nm">-0.37</text><text transform="translate(321.27,470.95) scale(1.05,1)" class="nm">0.23</text><text transform="translate(366.29,470.95) scale(1.05,1)" class="nm">-0.01</text><text transform="translate(412.93,470.95) scale(1.05,1)" class="nm">0.04</text><text transform="translate(91.31,516.78) scale(1.05,1)" class="nm">-0.08</text><text transform="translate(137.95,516.78) scale(1.05,1)" class="nm">0.05</text><text transform="translate(183.78,516.78) scale(1.05,1)" class="nm">0.07</text><text transform="translate(228.81,516.78) scale(1.05,1)" class="nm">-0.07</text><text transform="translate(274.63,516.78) scale(1.05,1)" class="nm">-0.13</text><text transform="translate(321.27,516.78) scale(1.05,1)" class="nm">0.11</text><text transform="translate(367.09,516.78) scale(1.05,1)" class="nm">0.30</text><text transform="translate(412.93,516.78) scale(1.05,1)" class="nm">0.14</text><text transform="translate(458.76,516.78) scale(1.05,1)" class="nm">0.63</text><text transform="translate(91.31,562.61) scale(1.05,1)" class="nm">-0.07</text><text transform="translate(137.15,562.61) scale(1.05,1)" class="nm">-0.46</text><text transform="translate(182.97,562.61) scale(1.05,1)" class="nm">-0.26</text><text transform="translate(228.81,562.61) scale(1.05,1)" class="nm">-0.35</text><text transform="translate(274.63,562.61) scale(1.05,1)" class="nm">-0.19</text><text transform="translate(320.47,562.61) scale(1.05,1)" class="nm">-0.21</text><text transform="translate(366.29,562.61) scale(1.05,1)" class="nm">-0.20</text><text transform="translate(412.12,562.61) scale(1.05,1)" class="nm">-0.29</text><text transform="translate(457.96,562.61) scale(1.05,1)" class="nm">-0.25</text><text transform="translate(503.78,562.61) scale(1.05,1)" class="nm">-0.31</text><text transform="translate(92.11,608.44) scale(1.05,1)" class="nm">0.03</text><text transform="translate(137.95,608.44) scale(1.05,1)" class="nm">0.04</text><text transform="translate(182.97,608.44) scale(1.05,1)" class="nm">-0.02</text><text transform="translate(228.81,608.44) scale(1.05,1)" class="nm">-0.18</text><text transform="translate(274.63,608.44) scale(1.05,1)" class="nm">-0.26</text><text transform="translate(320.47,608.44) scale(1.05,1)" class="nm">-0.59</text><text transform="translate(366.29,608.44) scale(1.05,1)" class="nm">-0.56</text><text transform="translate(412.12,608.44) scale(1.05,1)" class="nm">-0.34</text><text transform="translate(457.96,608.44) scale(1.05,1)" class="nm">-0.21</text><text transform="translate(503.78,608.44) scale(1.05,1)" class="nm">-0.28</text><text transform="translate(550.41,608.44) scale(1.05,1)" class="nm">0.41</text><text transform="translate(61.70,103.22) scale(1.01,1)" class="rl">Globcover</text><text transform="translate(61.50,149.25) scale(1.0,1)" class="rl">bio10</text><text transform="translate(61.50,195.47) scale(1.025,1)" class="rl">bio9</text><text transform="translate(60.50,241.31) scale(0.96,1)" class="rl">bio1</text><text transform="translate(61.50,287.13) scale(1.0,1)" class="rl">bio8</text><text transform="translate(60.80,332.96) scale(0.975,1)" class="rl">bio13</text><text transform="translate(61.30,378.79) scale(0.975,1)" class="rl">bio18</text><text transform="translate(58.10,426.12) scale(1.0,1)" class="rl">HII</text><text transform="translate(61.40,470.65) scale(0.985,1)" class="rl">bio19</text><text transform="translate(61.40,516.53) scale(0.985,1)" class="rl">bio17</text><text transform="translate(57.20,561.61) scale(0.98,1)" class="rl">elev</text><text transform="translate(61.40,607.94) scale(1.025,1)" class="rl">bio2</text><text transform="translate(89.40,61.00) rotate(-90)" class="cl">Globcover</text><text transform="translate(142.40,58.70) rotate(-90)" class="cl">bio10</text><text transform="translate(187.80,58.50) rotate(-90)" class="cl">bio9</text><text transform="translate(233.80,58.50) rotate(-90)" class="cl">bio1</text><text transform="translate(278.60,58.10) rotate(-90)" class="cl">bio8</text><text transform="translate(325.10,58.30) rotate(-90)" class="cl">bio13</text><text transform="translate(371.50,58.30) rotate(-90)" class="cl">bio18</text><text transform="translate(414.80,53.90) rotate(-90)" class="cl" letter-spacing="-0.75">IIII</text><text transform="translate(463.30,58.60) rotate(-90)" class="cl">bio19</text><text transform="translate(509.00,58.00) rotate(-90)" class="cl">bio17</text><text transform="translate(557.60,59.10) rotate(-90)" class="cl">elev</text><text transform="translate(600.70,58.60) rotate(-90)" class="cl">bio2</text><defs><linearGradient id="cb" x1="0" y1="0" x2="0" y2="1"><stop offset="0.00" stop-color="#053061"/><stop offset="0.10" stop-color="#2166AC"/><stop offset="0.20" stop-color="#4393C3"/><stop offset="0.30" stop-color="#92C5DE"/><stop offset="0.40" stop-color="#D1E5F0"/><stop offset="0.50" stop-color="#FFFFFF"/><stop offset="0.60" stop-color="#FDDBC7"/><stop offset="0.70" stop-color="#F4A582"/><stop offset="0.80" stop-color="#D6604D"/><stop offset="0.90" stop-color="#B2182B"/><stop offset="1.00" stop-color="#67001F"/></linearGradient></defs><rect x="628.5" y="77.3" width="19.70" height="550.30" fill="url(#cb)"/><path d="M628.5 77.3V627.6" stroke="#666" stroke-width="1" fill="none"/><path d="M648.2 77.3V627.6" stroke="#333" stroke-width="1.2" fill="none"/><text x="672.8" y="80.90" class="tl">1</text><text x="672.8" y="135.93" class="tl">0.8</text><text x="672.8" y="190.96" class="tl">0.6</text><text x="672.8" y="245.99" class="tl">0.4</text><text x="672.8" y="301.02" class="tl">0.2</text><text x="672.8" y="356.05" class="tl">0</text><text x="672.8" y="411.08" class="tl">-0.2</text><text x="672.8" y="466.11" class="tl">-0.4</text><text x="672.8" y="521.14" class="tl">-0.6</text><text x="672.8" y="576.17" class="tl">-0.8</text><text x="672.8" y="631.20" class="tl">-1</text><path d="M648.2 77.30H652.5M648.2 132.33H652.5M648.2 187.36H652.5M648.2 242.39H652.5M648.2 297.42H652.5M648.2 352.45H652.5M648.2 407.48H652.5M648.2 462.51H652.5M648.2 517.54H652.5M648.2 572.57H652.5M648.2 627.60H652.5" stroke="#333" stroke-width="1.2" fill="none"/></g></svg>
</body></html>
